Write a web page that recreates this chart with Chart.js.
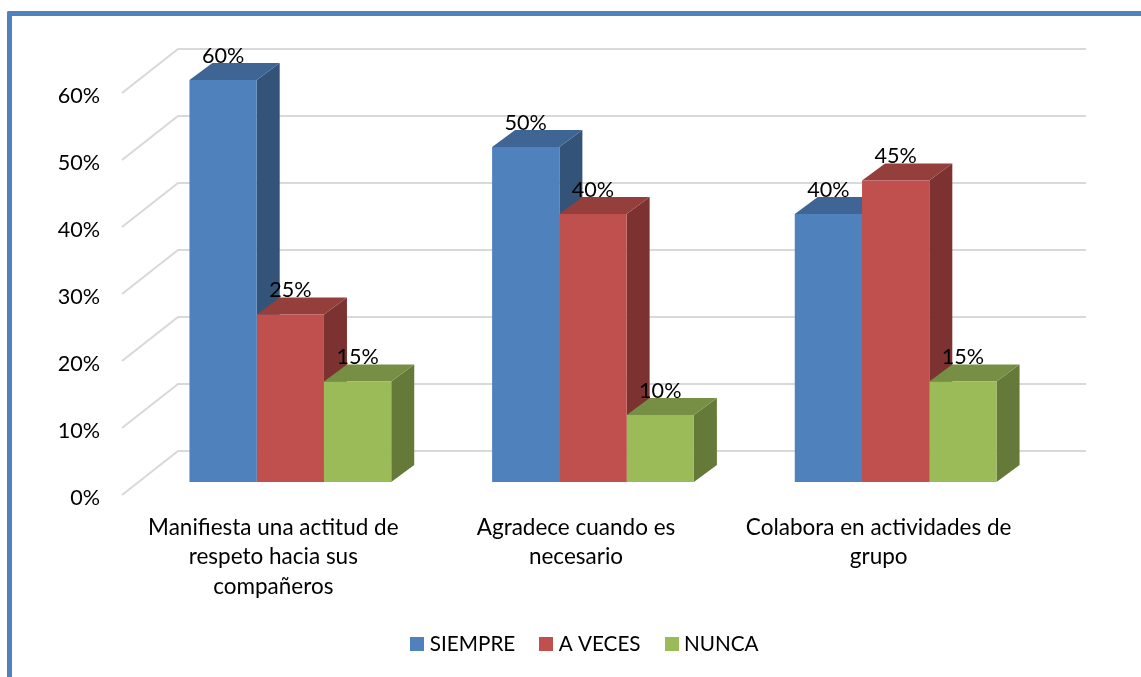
<!DOCTYPE html>
<html>
<head>
<meta charset="utf-8">
<style>
html,body{margin:0;padding:0;background:#fff;overflow:hidden}
#frame{position:absolute;left:7px;top:11px;width:1134px;height:666px;box-sizing:border-box;border-left:5px solid #4F81BD;border-top:5px solid #4F81BD;border-top-left-radius:2px}
#c{position:absolute;left:0;top:0}
</style>
</head>
<body>
<div id="frame"></div>
<canvas id="c" width="1141" height="677"></canvas>
<script src="https://cdn.jsdelivr.net/npm/chart.js@4/dist/chart.umd.min.js"></script>
<script>
const categories = [
  ["Manifiesta una actitud de", "respeto hacia sus", "compañeros"],
  ["Agradece cuando es", "necesario"],
  ["Colabora en actividades de", "grupo"]
];
const siempre = [60, 50, 40];
const aVeces = [25, 40, 45];
const nunca = [15, 10, 15];
const seriesNames = ["SIEMPRE", "A VECES", "NUNCA"];
const frontColors = ["#4F81BD", "#C0504D", "#9BBB59"];
const topColors = ["#3F6594", "#943F3C", "#778F45"];
const sideColors = ["#335379", "#7C3230", "#657A39"];

const FONT = "Lato, 'Open Sans', sans-serif";
const SIZE_CAT = 22.5, SIZE_VAL = 21.6, SIZE_LEG = 20.7;
const WALL_SHIFT_Y = 3, WALL_DX = 56, WALL_DY = 44;
const BAR_SHIFT_X = 17, BAR_SHIFT_Y = 16;
const DEPTH_X = 23, DEPTH_Y = 17;

function swatch(color) {
  const s = document.createElement("canvas");
  s.width = 14; s.height = 14;
  const g = s.getContext("2d");
  g.fillStyle = color;
  g.fillRect(0, 0, 14, 14);
  return s;
}
const swatches = frontColors.map(swatch);

const threeD = {
  id: "threeD",
  afterLayout(chart) {
    const l = chart.legend;
    const w = l.right - l.left;
    const target = 587 - w / 2;
    l.left = target;
    l.right = target + w;
    l.top = 605;
    l.bottom = l.top + l.height;
  },
  beforeDatasetsDraw(chart) {
    const { ctx, chartArea: a, scales: { y } } = chart;
    ctx.save();
    ctx.strokeStyle = "#D9D9D9";
    ctx.lineWidth = 2.2;
    y.ticks.forEach(t => {
      const py = y.getPixelForValue(t.value) - WALL_SHIFT_Y;
      ctx.beginPath();
      ctx.moveTo(a.left, py);
      ctx.lineTo(a.left + WALL_DX, py - WALL_DY);
      ctx.lineTo(1086, py - WALL_DY);
      ctx.stroke();
    });
    ctx.restore();

    ctx.save();
    ctx.translate(BAR_SHIFT_X, -BAR_SHIFT_Y);
    chart.data.datasets.forEach((ds, i) => {
      chart.getDatasetMeta(i).data.forEach(bar => {
        const { x, y: top, base, width } = bar.getProps(["x", "y", "base", "width"], true);
        const l = x - width / 2, r = x + width / 2;
        ctx.fillStyle = sideColors[i];
        ctx.beginPath();
        ctx.moveTo(r, top);
        ctx.lineTo(r + DEPTH_X, top - DEPTH_Y);
        ctx.lineTo(r + DEPTH_X, base - DEPTH_Y);
        ctx.lineTo(r, base);
        ctx.closePath();
        ctx.fill();
        ctx.fillStyle = topColors[i];
        ctx.beginPath();
        ctx.moveTo(l, top);
        ctx.lineTo(l + DEPTH_X, top - DEPTH_Y);
        ctx.lineTo(r + DEPTH_X, top - DEPTH_Y);
        ctx.lineTo(r, top);
        ctx.closePath();
        ctx.fill();
      });
    });
  },
  afterDatasetsDraw(chart) {
    const { ctx } = chart;
    ctx.restore();
    ctx.save();
    ctx.fillStyle = "#000";
    ctx.font = SIZE_VAL + "px " + FONT;
    ctx.textAlign = "center";
    ctx.textBaseline = "middle";
    chart.data.datasets.forEach((ds, i) => {
      chart.getDatasetMeta(i).data.forEach((bar, j) => {
        const { x, y: top } = bar.getProps(["x", "y"], true);
        ctx.fillText(ds.data[j] + "%", x + BAR_SHIFT_X, top - BAR_SHIFT_Y - 24);
      });
    });
    ctx.restore();
  }
};

new Chart(document.getElementById("c"), {
  type: "bar",
  data: {
    labels: categories,
    datasets: [siempre, aVeces, nunca].map((d, i) => ({
      label: seriesNames[i],
      data: d,
      backgroundColor: frontColors[i],
      borderWidth: 0,
      clip: false
    }))
  },
  options: {
    responsive: false,
    animation: false,
    layout: { padding: { left: 40, right: 111, top: 96, bottom: 0 } },
    datasets: { bar: { barPercentage: 1, categoryPercentage: 0.6667 } },
    plugins: {
      tooltip: { enabled: false },
      title: { display: false },
      legend: {
        display: true,
        position: "bottom",
        labels: {
          font: { family: FONT, size: SIZE_LEG },
          color: "#000",
          padding: 29,
          usePointStyle: true,
          pointStyleWidth: 4,
          generateLabels(chart) {
            return Chart.defaults.plugins.legend.labels.generateLabels(chart).map((it, i) => {
              it.pointStyle = swatches[i];
              return it;
            });
          }
        }
      }
    },
    scales: {
      x: {
        grid: { display: false },
        border: { display: false },
        afterFit(s) { s.height = 179 - s.chart.legend.height; },
        ticks: {
          autoSkip: false,
          maxRotation: 0,
          minRotation: 0,
          padding: 7,
          color: "#000",
          font: { family: FONT, size: SIZE_CAT, lineHeight: 1.31 }
        }
      },
      y: {
        min: 0,
        max: 60,
        grid: { display: false },
        border: { display: false },
        afterFit(s) { s.width = 82; },
        ticks: {
          stepSize: 10,
          padding: 14,
          color: "#000",
          font: { family: FONT, size: SIZE_VAL },
          callback: v => v + "%"
        }
      }
    }
  },
  plugins: [threeD]
});
</script>
</body>
</html>
